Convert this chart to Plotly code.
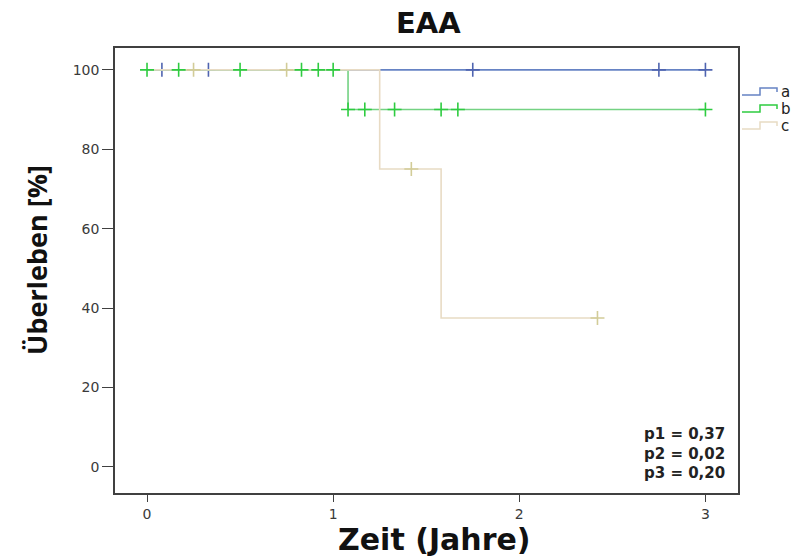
import plotly.graph_objects as go

# Kaplan-Meier step curves (time in years, survival in %)
groups = ["a", "b", "c"]

step_time_a = [0.0, 3.0]
step_surv_a = [100, 100]
censor_a = [0.08, 0.33, 1.75, 2.75, 3.0]

step_time_b = [0.0, 1.08, 3.0]
step_surv_b = [100, 90, 90]
censor_b = [0.0, 0.17, 0.5, 0.83, 0.92, 1.0, 1.08, 1.17, 1.33, 1.58, 1.67, 3.0]

step_time_c = [0.0, 1.25, 1.58, 2.42]
step_surv_c = [100, 75, 37.5, 37.5]
censor_c = [0.25, 0.75, 1.42, 2.42]

p_values = [("p1", "0,37"), ("p2", "0,02"), ("p3", "0,20")]

x_ticks = [0, 1, 2, 3]
y_ticks = [0, 20, 40, 60, 80, 100]

line_colors = {"a": "#6683c4", "b": "#74d283", "c": "#e8dbc4"}
mark_colors = {"a": "#4f64b0", "b": "#2ecc40", "c": "#d2cc98"}

series = {
    "a": (step_time_a, step_surv_a, censor_a),
    "b": (step_time_b, step_surv_b, censor_b),
    "c": (step_time_c, step_surv_c, censor_c),
}


def surv_at(t, times, surv):
    """Value of a right-continuous step function at time t."""
    val = surv[0]
    for ti, si in zip(times, surv):
        if ti <= t:
            val = si
    return val


W, H = 797, 558
M_L, M_R, M_T, M_B = 115, 59, 48, 65
PW, PH = W - M_L - M_R, H - M_T - M_B


def px(x):
    return (x - M_L) / PW


def py(y):
    return (H - M_B - y) / PH


fig = go.Figure()


def add_line(g):
    t, s, _ = series[g]
    fig.add_trace(go.Scatter(
        x=t, y=s, mode="lines", line=dict(color=line_colors[g], width=1.6, shape="hv"),
        showlegend=False, hoverinfo="skip"))


def add_marks(g):
    t, s, cens = series[g]
    fig.add_trace(go.Scatter(
        x=cens, y=[surv_at(c, t, s) for c in cens], mode="markers",
        marker=dict(symbol="cross-thin", size=10, line=dict(color=mark_colors[g], width=1.6)),
        showlegend=False, hoverinfo="skip"))


# drawing order: group a sits underneath the later curves
add_line("a")
add_marks("a")
add_line("b")
add_line("c")
add_marks("b")
add_marks("c")

axis_common = dict(
    showgrid=False, zeroline=False, showline=True, mirror=True,
    linecolor="#404040", linewidth=1.6, ticks="outside", tickcolor="#404040",
    tickwidth=1.4, tickfont=dict(family="DejaVu Sans", size=14, color="#3a3a3a"),
)

fig.update_xaxes(range=[-0.172, 3.175], tickvals=x_ticks, ticklen=7, **axis_common)
fig.update_yaxes(range=[-6.6, 105.5], tickvals=y_ticks, ticklen=11, **axis_common)

annotations = [
    dict(text="<b>EAA</b>", x=px(428), y=py(23), font=dict(family="DejaVu Sans", size=29, color="#111")),
    dict(text="<b>Zeit (Jahre)</b>", x=px(434), y=py(539), font=dict(family="DejaVu Sans", size=30, color="#111")),
    dict(text="<b>Überleben [%]</b>", x=px(36), y=py(260), textangle=-90,
         font=dict(family="Open Sans", size=27, color="#111")),
    dict(text="<br>".join(f"<b>{k} = {v}</b>" for k, v in p_values), x=px(727), y=py(453),
         xanchor="right", align="right", font=dict(family="DejaVu Sans", size=15, color="#222")),
]

# step-shaped legend keys
shapes = []
for i, g in enumerate(groups):
    y_low = 95 + i * 17
    y_high = y_low - 7
    path = (f"M {px(742)},{py(y_low)} L {px(760)},{py(y_low)} L {px(760)},{py(y_high)} "
            f"L {px(777)},{py(y_high)} L {px(777)},{py(y_high + 4)}")
    shapes.append(dict(type="path", path=path, xref="paper", yref="paper",
                       line=dict(color=line_colors[g] if g != "b" else mark_colors[g], width=1.5)))
    annotations.append(dict(text=g, x=px(779), y=py(y_low - 3), xanchor="left",
                            font=dict(family="DejaVu Sans", size=15, color="#222")))

for a in annotations:
    a.setdefault("xanchor", "center")
    a.setdefault("yanchor", "middle")
    a.update(xref="paper", yref="paper", showarrow=False)

fig.update_layout(
    width=W, height=H, margin=dict(l=M_L, r=M_R, t=M_T, b=M_B),
    paper_bgcolor="white", plot_bgcolor="white",
    annotations=annotations, shapes=shapes,
)

fig.write_html("out.html")
